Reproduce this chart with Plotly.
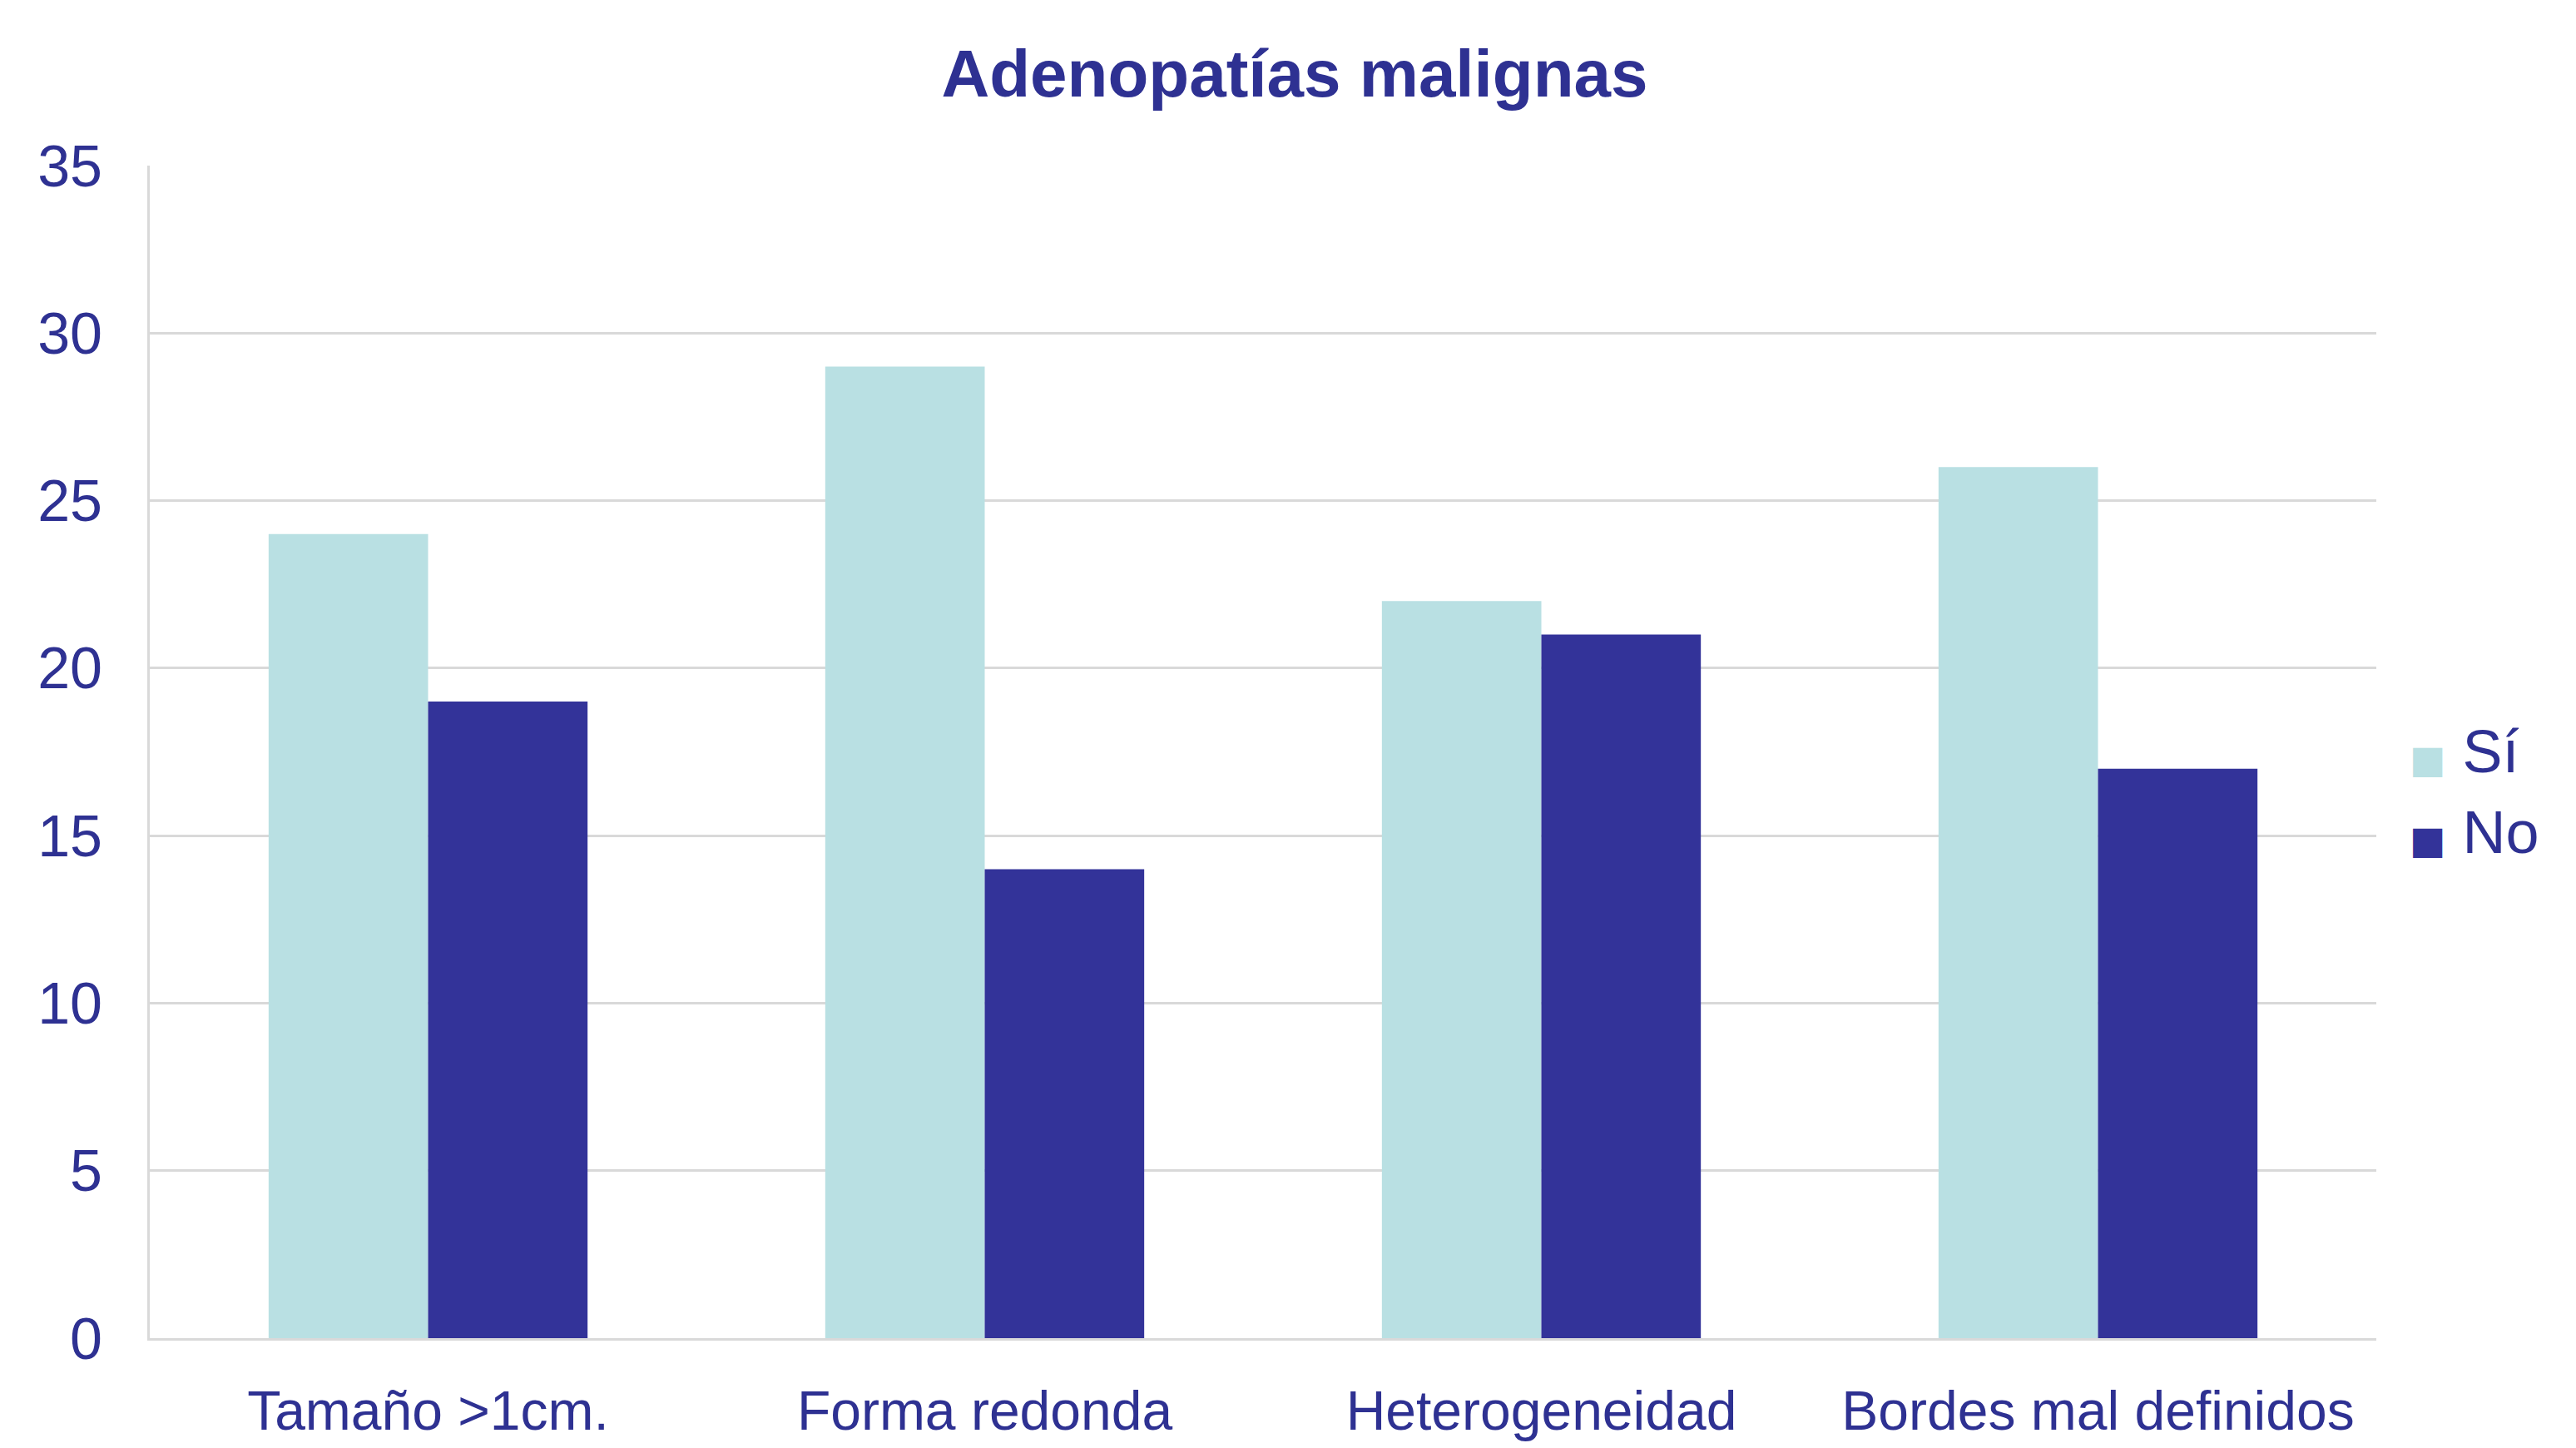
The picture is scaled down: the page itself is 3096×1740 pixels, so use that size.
import plotly.graph_objects as go

categories = ["Tamaño >1cm.", "Forma redonda", "Heterogeneidad", "Bordes mal definidos"]
si_values = [24, 29, 22, 26]
no_values = [19, 14, 21, 17]
y_ticks = [0, 5, 10, 15, 20, 25, 30, 35]

TEXT = "#2E3192"
SI_COLOR = "#B9E0E3"
NO_COLOR = "#333399"
FONT = "Liberation Sans, Arial, sans-serif"

fig = go.Figure()
fig.add_trace(go.Bar(name="Sí", x=categories, y=si_values, marker=dict(color=SI_COLOR, line=dict(width=0)),
                     showlegend=False))
fig.add_trace(go.Bar(name="No", x=categories, y=no_values, marker=dict(color=NO_COLOR, line=dict(width=0)),
                     showlegend=False))
# legend entries: large square swatch drawn as a coloured glyph in the legend text
for name, col in [("Sí", SI_COLOR), ("No", NO_COLOR)]:
    fig.add_trace(go.Scatter(
        name=f'<span style="color:{col};font-size:46px;font-family:DejaVu Sans">■</span> {name}',
        x=[None], y=[None], mode="markers",
        marker=dict(symbol="square", size=1, color="rgba(0,0,0,0)"), showlegend=True))

fig.update_layout(
    width=3096, height=1740,
    paper_bgcolor="white", plot_bgcolor="white",
    margin=dict(l=172, r=248, t=191, b=140),
    barmode="group", bargap=0.427, bargroupgap=0,
    font=dict(family=FONT, color=TEXT, size=66),
    title=dict(text="<b>Adenopatías malignas</b>", x=0.5, xanchor="center", y=1 - 80/1740, yanchor="middle",
               font=dict(family=FONT, size=80, color=TEXT)),
    legend=dict(x=1.0, xanchor="left", y=0.468, yanchor="middle", font=dict(size=72, color=TEXT),
                itemwidth=30, tracegroupgap=0, bgcolor="rgba(0,0,0,0)"),
    yaxis=dict(range=[0, 35], tickvals=y_ticks, showgrid=True, gridcolor="#D9D9D9", gridwidth=3,
               showline=True, linecolor="#D9D9D9", linewidth=3, zeroline=False, ticks="",
               tickfont=dict(size=70, color=TEXT), ticklabelstandoff=40, automargin=False),
    xaxis=dict(showline=True, linecolor="#D9D9D9", linewidth=3, ticks="", showgrid=False, tickangle=0,
               tickfont=dict(size=66, color=TEXT), ticklabelstandoff=28, automargin=False),
)

fig.write_html("out.html")
